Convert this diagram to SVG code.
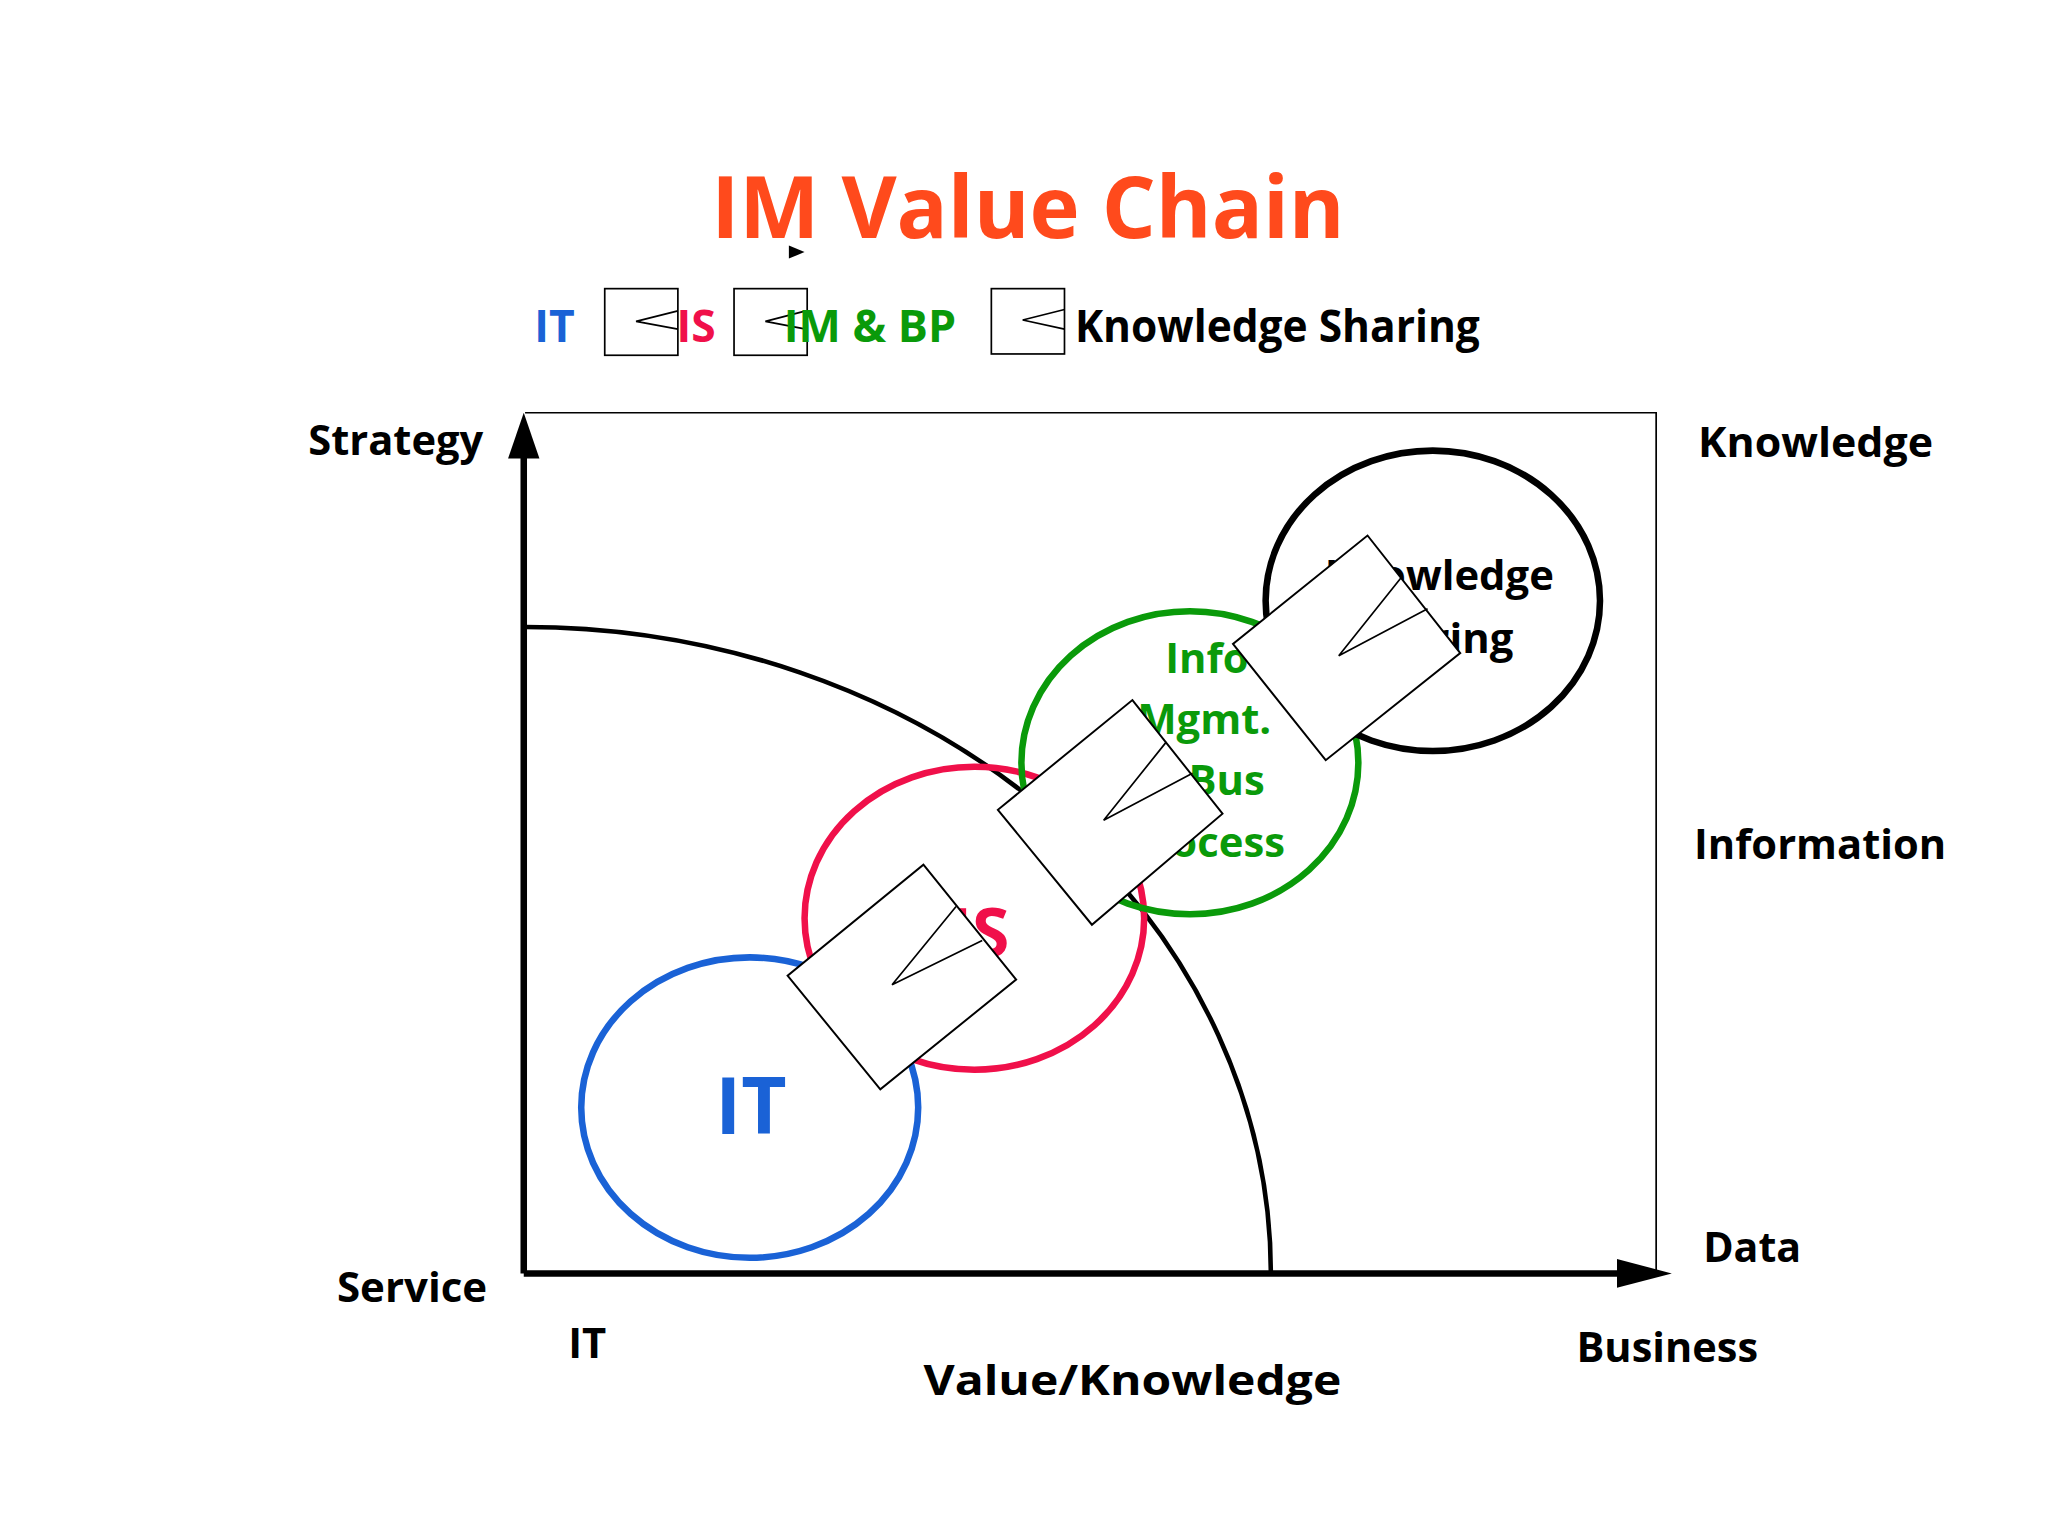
<svg xmlns="http://www.w3.org/2000/svg" width="2048" height="1536" viewBox="0 0 2048 1536">
<style>
text{font-family:"Open Sans","Liberation Sans",sans-serif;font-weight:bold}
.lbl{font-size:32px;fill:#000}
.ring{fill:none;stroke-width:5}
.dia{fill:#fff;stroke:#000;stroke-width:1.5}
.chev{fill:none;stroke:#000;stroke-width:1.3}
.box{fill:#fff;stroke:#000;stroke-width:1.3}
</style>
<defs>
<marker id="ah" viewBox="0 0 10 10" refX="10" refY="5" markerWidth="10" markerHeight="6" markerUnits="userSpaceOnUse" orient="auto"/>
</defs>
<rect width="2048" height="1536" fill="#fff"/>
<g transform="scale(1.30612)">
<g id="title">
<text x="787" y="182" font-size="66" fill="#ff4a1c" text-anchor="middle" textLength="485" lengthAdjust="spacingAndGlyphs">IM Value Chain</text>
<polygon points="604,188 616,193 604,198" fill="#000"/>
</g>
<g id="legend" font-size="34">
<text x="409" y="262" fill="#1a62d6" font-size="34">IT</text>
<rect class="box" x="463" y="221" width="56" height="51"/>
<polyline class="chev" points="519,238 487,246 519,252"/>
<text x="518" y="262" fill="#f0104a" font-size="34">IS</text>
<rect class="box" x="562" y="221" width="56" height="51"/>
<polyline class="chev" points="617,238 586,246 617,252"/>
<text x="600" y="262" fill="#0a9a0a" font-size="34" textLength="132" lengthAdjust="spacingAndGlyphs">IM &amp; BP</text>
<rect class="box" x="759" y="221" width="56" height="50"/>
<polyline class="chev" points="815,237 783,245 815,252"/>
<text x="823" y="262" fill="#000" font-size="34" textLength="310" lengthAdjust="spacingAndGlyphs">Knowledge Sharing</text>
</g>
<g id="connectors">
<polyline points="402,316 1268,316 1268,975" fill="none" stroke="#000" stroke-width="1.3"/>
<line x1="401" y1="975" x2="401" y2="345" stroke="#000" stroke-width="5"/>
<polygon points="401,316 389,351 413,351" fill="#000"/>
<line x1="401" y1="975" x2="1245" y2="975" stroke="#000" stroke-width="5"/>
<polygon points="1280,975 1238,964 1238,986" fill="#000"/>
<path d="M402,480 A571,495 0 0 1 973,975" fill="none" stroke="#000" stroke-width="3.5"/>
</g>
<g id="axis-labels" class="lbl">
<text class="lbl" x="236" y="348" textLength="134" lengthAdjust="spacingAndGlyphs">Strategy</text>
<text class="lbl" x="258" y="997" textLength="115" lengthAdjust="spacingAndGlyphs">Service</text>
<text class="lbl" x="435" y="1040">IT</text>
<text class="lbl" x="707" y="1068" font-size="36" textLength="320" lengthAdjust="spacingAndGlyphs">Value/Knowledge</text>
<text class="lbl" x="1207" y="1043" textLength="139" lengthAdjust="spacingAndGlyphs">Business</text>
<text class="lbl" x="1300" y="350" textLength="180" lengthAdjust="spacingAndGlyphs">Knowledge</text>
<text class="lbl" x="1297" y="658" textLength="193" lengthAdjust="spacingAndGlyphs">Information</text>
<text class="lbl" x="1304" y="966" textLength="75" lengthAdjust="spacingAndGlyphs">Data</text>
</g>
<g id="node-it">
<ellipse class="ring" cx="574" cy="848" rx="129" ry="115" stroke="#1a62d6"/>
<text x="575" y="868" font-size="60" fill="#1a62d6" text-anchor="middle">IT</text>
</g>
<g id="node-is">
<ellipse class="ring" cx="746" cy="703" rx="130" ry="116" stroke="#f0104a"/>
<text x="750" y="733" font-size="52" fill="#f0104a" text-anchor="middle">IS</text>
</g>
<g id="node-im">
<ellipse class="ring" cx="911" cy="584" rx="129" ry="116" stroke="#0a9a0a"/>
<g font-size="32" fill="#0a9a0a" text-anchor="middle">
<text x="924" y="515">Info</text>
<text x="922" y="562">Mgmt.</text>
<text x="923" y="609">&amp; Bus</text>
<text x="923" y="656">Process</text>
</g>
</g>
<g id="node-ks">
<ellipse class="ring" cx="1097" cy="460" rx="128" ry="115" stroke="#000"/>
<text x="1102" y="452" font-size="32" text-anchor="middle">Knowledge</text>
<text x="1098" y="500" font-size="32" text-anchor="middle">Sharing</text>
</g>
<g id="arrow-1">
<polygon class="dia" points="707,662 778,750 674,834 603,747"/>
<polyline class="chev" points="732,694 683,754 752,720"/>
</g>
<g id="arrow-2">
<polygon class="dia" points="867,536 936,623 836,708 764,620"/>
<polyline class="chev" points="893,568 845,628 913,592"/>
</g>
<g id="arrow-3">
<polygon class="dia" points="1047,410 1118,500 1015,582 944,493"/>
<polyline class="chev" points="1073,442 1025,502 1093,466"/>
</g>
</g>
</svg>
